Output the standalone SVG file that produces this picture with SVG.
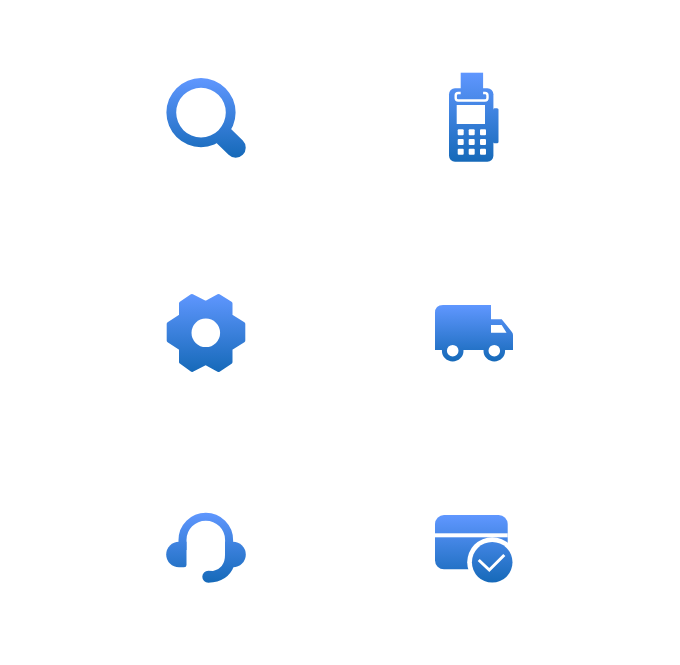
<svg xmlns="http://www.w3.org/2000/svg" xmlns:xlink="http://www.w3.org/1999/xlink" width="680" height="665" viewBox="0 0 680 665">
<defs>
<linearGradient id="base"><stop offset="0" stop-color="#6097ff"/><stop offset="1" stop-color="#1569b8"/></linearGradient>
<linearGradient id="g1" href="#base" gradientUnits="userSpaceOnUse" x1="0" x2="0" y1="78" y2="158"/>
<linearGradient id="g2" href="#base" gradientUnits="userSpaceOnUse" x1="0" x2="0" y1="72" y2="162"/>
<linearGradient id="g3" href="#base" gradientUnits="userSpaceOnUse" x1="0" x2="0" y1="293" y2="373"/>
<linearGradient id="g4" href="#base" gradientUnits="userSpaceOnUse" x1="0" x2="0" y1="305" y2="362"/>
<linearGradient id="g5" href="#base" gradientUnits="userSpaceOnUse" x1="0" x2="0" y1="512" y2="583"/>
<linearGradient id="g6" href="#base" gradientUnits="userSpaceOnUse" x1="0" x2="0" y1="515" y2="583"/>
</defs>
<style>.w{fill:#fff}</style>
<rect width="680" height="665" fill="#fff"/>
<g id="search">
<path fill="url(#g1)" fill-rule="evenodd" d="M201 78A34.600 34.600 0 1 1 201 147.200A34.600 34.600 0 1 1 201 78ZM201 87.800A24.800 24.800 0 1 0 201 137.400A24.800 24.800 0 1 0 201 87.800Z"/>
<path fill="url(#g1)" d="M230.500 128.600L242.800 140.600A10 10 0 0 1 228.600 154.800L216.500 143Z"/>
</g>
<g id="pos-terminal">
<rect x="493" y="108.300" width="5.500" height="35" rx="1.500" fill="url(#g2)"/>
<rect x="449" y="88.300" width="44.400" height="73.400" rx="6" fill="url(#g2)"/>
<rect x="455.700" y="93" width="31.800" height="7.500" rx="2.500" fill="none" stroke="#fff" stroke-width="2.400"/>
<rect x="460.700" y="72.700" width="22.400" height="25" fill="url(#g2)"/>
<rect class="w" x="456.700" y="105" width="28.300" height="19"/>
<g class="w">
<rect x="457.700" y="129.300" width="6" height="6" rx="1"/><rect x="468.700" y="129.300" width="6" height="6" rx="1"/><rect x="480" y="129.300" width="6" height="6" rx="1"/>
<rect x="457.700" y="139" width="6" height="6" rx="1"/><rect x="468.700" y="139" width="6" height="6" rx="1"/><rect x="480" y="139" width="6" height="6" rx="1"/>
<rect x="457.700" y="148.700" width="6" height="6" rx="1"/><rect x="468.700" y="148.700" width="6" height="6" rx="1"/><rect x="480" y="148.700" width="6" height="6" rx="1"/>
</g>
</g>
<g id="gear">
<path fill="url(#g3)" stroke="url(#g3)" stroke-width="4" stroke-linejoin="round" d="M192 296L205.700 303L218.500 296L230.500 303.500L230.500 316L243.300 324L243.300 340.500L230.500 348.500L230.500 362L218.500 370L205.700 363L192 370L181 362L181 348.500L168.700 340.500L168.700 324L181 316L181 303.500Z"/>
<circle class="w" cx="205.800" cy="332.800" r="14.300"/>
</g>
<g id="truck">
<path fill="url(#g4)" d="M443 305H491V319.300H501.700L511.700 331.700Q513 333 513 335V350H435V313Q435 305 443 305Z"/>
<path class="w" d="M491 325H501.700L506.500 332.700H491Z"/>
<circle cx="452.700" cy="350.700" r="8.300" fill="#fff" stroke="url(#g4)" stroke-width="5"/>
<circle cx="494.300" cy="350.700" r="8.300" fill="#fff" stroke="url(#g4)" stroke-width="5"/>
</g>
<g id="headset">
<path fill="none" stroke="url(#g5)" stroke-width="8" d="M182.500 550V540A23.300 23.300 0 0 1 229.100 540V552"/>
<path fill="url(#g5)" d="M179 541.700H186.500V565Q186.500 567.300 184 567.300H179A12.800 12.800 0 0 1 179 541.700Z"/>
<path fill="url(#g5)" d="M233 541.700A12.800 12.800 0 0 1 233 567.300H225V541.700Z"/>
<path fill="url(#g5)" d="M225 555Q225 568 213 571L208.300 570.700A6 6 0 0 0 208.300 582.700Q228 582 234 566Z"/>
</g>
<g id="card-check">
<rect x="435" y="515" width="72.700" height="54.300" rx="9" fill="url(#g6)"/>
<rect class="w" x="435" y="533.300" width="72.700" height="4"/>
<circle class="w" cx="492.200" cy="562.300" r="25"/>
<circle cx="492.200" cy="562.300" r="20.300" fill="url(#g6)"/>
<path d="M478.700 560L489.300 570L504.300 555" fill="none" stroke="#fff" stroke-width="3"/>
</g>
</svg>
